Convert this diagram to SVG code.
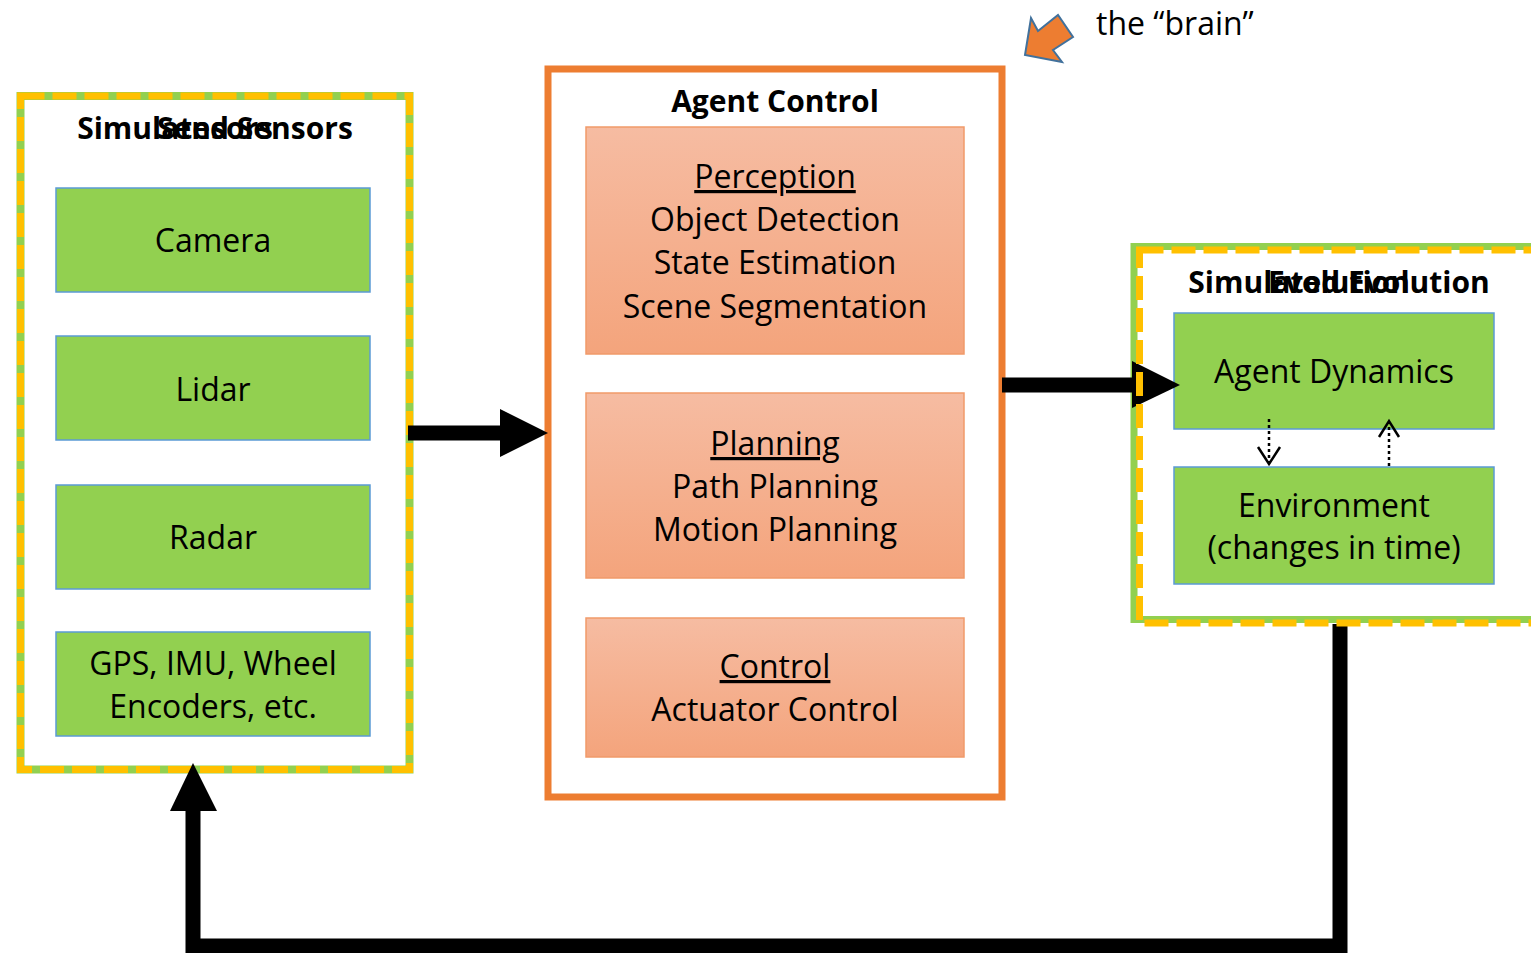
<svg xmlns="http://www.w3.org/2000/svg" width="1531" height="953" viewBox="0 0 1531 953">
<defs>
<linearGradient id="og" x1="0" y1="0" x2="0" y2="1">
<stop offset="0" stop-color="#F6BCA2"/>
<stop offset="1" stop-color="#F4A47C"/>
</linearGradient>
<style>
text{font-family:"Open Sans","Liberation Sans",sans-serif;fill:#000;text-anchor:middle}
.t{font-size:32px}
.b{font-size:30px;font-weight:bold}
.g{fill:#92D050;stroke:#5B9BD5;stroke-width:1.5}
.o{fill:url(#og);stroke:#F19A6A;stroke-width:1.5}
.u{text-decoration:underline}
.gb{fill:#fff;stroke:#92D050;stroke-width:8}
.yd{fill:none;stroke:#FFC000;stroke-width:7;stroke-dasharray:24 8}
.blk{fill:none;stroke:#000;stroke-width:15}
</style>
</defs>
<rect width="1531" height="953" fill="#fff"/>

<g id="sensors">
<rect class="gb" x="20.5" y="96" width="389" height="673.5"/>
<rect class="yd" x="20.5" y="96" width="389" height="673.5" stroke-width="6"/>
<text class="b" x="215" y="139">Simulated Sensors</text>
<text class="b" x="215" y="139">Sensors</text>
<g id="camera"><rect class="g" x="56" y="188" width="314" height="104"/><text class="t" x="213" y="252">Camera</text></g>
<g id="lidar"><rect class="g" x="56" y="336" width="314" height="104"/><text class="t" x="213" y="401">Lidar</text></g>
<g id="radar"><rect class="g" x="56" y="485" width="314" height="104"/><text class="t" x="213" y="549">Radar</text></g>
<g id="gps"><rect class="g" x="56" y="632" width="314" height="104"/><text class="t" x="213" y="675">GPS, IMU, Wheel</text><text class="t" x="213" y="718">Encoders, etc.</text></g>
</g>

<g id="agent-control">
<rect x="548" y="69" width="454" height="728" fill="#fff" stroke="#ED7D31" stroke-width="7"/>
<text class="b" x="775" y="112">Agent Control</text>
<g id="perception"><rect class="o" x="586" y="127" width="378" height="227"/>
<text class="t u" x="775" y="188">Perception</text>
<text class="t" x="775" y="231">Object Detection</text>
<text class="t" x="775" y="274">State Estimation</text>
<text class="t" x="775" y="318">Scene Segmentation</text></g>
<g id="planning"><rect class="o" x="586" y="393" width="378" height="185"/>
<text class="t u" x="775" y="455">Planning</text>
<text class="t" x="775" y="498">Path Planning</text>
<text class="t" x="775" y="541">Motion Planning</text></g>
<g id="control"><rect class="o" x="586" y="618" width="378" height="139"/>
<text class="t u" x="775" y="678">Control</text>
<text class="t" x="775" y="721">Actuator Control</text></g>
</g>

<g id="brain">
<polygon points="1025,55 1031,18 1038,31 1058,15 1073,37 1053,50 1062,62" fill="#ED7D31" stroke="#41719C" stroke-width="2" stroke-linejoin="miter"/>
<text class="t" x="1096" y="35" style="text-anchor:start">the “brain”</text>
</g>

<g id="evolution">
<rect x="1134" y="246.5" width="420" height="373" fill="#fff" stroke="#92D050" stroke-width="7"/>
<text class="b" x="1339" y="293">Simulated Evolution</text>
<text class="b" x="1339" y="293">Evolution</text>
<g id="agent-dynamics"><rect class="g" x="1174" y="313" width="320" height="116"/><text class="t" x="1334" y="383">Agent Dynamics</text></g>
<g id="environment"><rect class="g" x="1174" y="467" width="320" height="117"/><text class="t" x="1334" y="517">Environment</text><text class="t" x="1334" y="559">(changes in time)</text></g>
<g id="dyn-links">
<path d="M1269,419 V462" stroke="#000" stroke-width="2.5" stroke-dasharray="3 3" fill="none"/>
<path d="M1258,447 L1269,464 L1280,447" stroke="#000" stroke-width="2.5" fill="none"/>
<path d="M1389,466 V423" stroke="#000" stroke-width="2.5" stroke-dasharray="3 3" fill="none"/>
<path d="M1379,437 L1389,421 L1399,437" stroke="#000" stroke-width="2.5" fill="none"/>
</g>
</g>

<g id="connectors">
<path class="blk" d="M408,433 H502"/>
<polygon points="500,409 548,433 500,457" fill="#000"/>
<path class="blk" d="M1002,385 H1135"/>
<polygon points="1132,361 1180,385 1132,408" fill="#000"/>
<path class="blk" d="M1340,624 V946 H193 V809"/>
<polygon points="170,811 193,763 217,811" fill="#000"/>
</g>

<g id="evolution-border">
<rect class="yd" x="1139.5" y="250" width="420" height="373" stroke-width="6"/>
</g>
</svg>
